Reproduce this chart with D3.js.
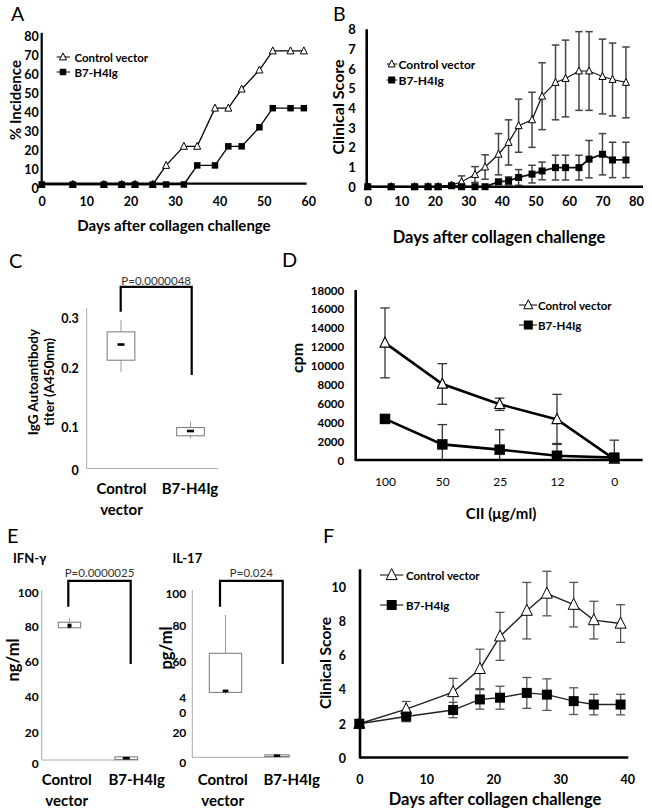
<!DOCTYPE html>
<html><head><meta charset="utf-8">
<script src="https://cdn.jsdelivr.net/npm/d3@7"></script>
<style>
html,body{margin:0;padding:0;background:#fff}
svg{display:block}
</style>
</head><body>
<svg id="fig" width="652" height="810"></svg>
<script>
// ================= DATA =================
// Panel A – % incidence
const daysA = [0,7,14,18,21,25,28,32,35,39,42,45,49,52,56,59];
const incControlA = [2,2,2,2,2,2,12,22,22,42,42,52,62,72,72,72];
const incB7A      = [2,2,2,2,2,2,2,2,12,12,22,22,32,42,42,42];
const ticksAY = [0,10,20,30,40,50,60,70,80];
const ticksAX = [0,10,20,30,40,50,60];

// Panel B – clinical score
const daysB = [0,7,14,18,21,25,28,32,35,39,42,45,49,52,56,59,63,66,70,73,77];
const scoreControlB = [0,0,0,0,0,0.08,0.25,0.62,1.0,1.65,2.25,3.1,3.4,4.6,5.3,5.5,5.88,5.88,5.6,5.45,5.3];
const errControlB   = [0,0,0,0,0,0.05,0.3,0.4,0.62,1.05,1.15,1.35,1.4,1.7,1.9,1.95,2.0,2.0,1.9,1.85,1.8];
const scoreB7B      = [0,0,0,0,0,0.05,0,0,0,0.25,0.3,0.47,0.64,0.8,0.97,0.97,0.97,1.4,1.65,1.36,1.36];
const errB7B        = [0,0,0,0,0,0,0,0,0,0.1,0.2,0.4,0.45,0.45,0.63,0.63,0.63,0.95,1.05,0.9,0.9];
const ticksBY = [0,1,2,3,4,5,6,7,8];
const ticksBX = [0,10,20,30,40,50,60,70,80];

// Panel C – IgG autoantibody titer (box plots)
const groups = ["Control vector","B7-H4Ig"];
const titerMin = [0.194,0.073];
const titerQ1  = [0.216,0.079];
const titerMed = [0.247,0.090];
const titerQ3  = [0.272,0.098];
const titerMax = [0.296,0.109];
const ticksCY = [0,0.1,0.2,0.3];
const pValueC = "P=0.0000048";

// Panel D – proliferation (cpm)
const doseD = ["100","50","25","12","0"];
const cpmControlD    = [12400,8050,5900,4300,100];
const cpmErrControlD = [3700,2150,650,2650,2000];
const cpmB7D         = [4350,1650,1100,450,250];
const cpmErrB7D      = [0,2100,2100,1300,0];
const ticksDY = [0,2000,4000,6000,8000,10000,12000,14000,16000,18000];

// Panel E – cytokines (box plots)
const ifnMin = [78.5,0.0];
const ifnQ1  = [79.4,0.3];
const ifnMed = [80.6,1.3];
const ifnQ3  = [82.6,2.3];
const ifnMax = [84.9,2.6];
const il17Min = [41.9,0.3];
const il17Q1  = [42.8,0.6];
const il17Med = [43.6,1.3];
const il17Q3  = [64.3,2.0];
const il17Max = [86.3,2.4];
const ticksEY = [0,20,40,60,80,100];
const pValueIFN = "P=0.0000025";
const pValueIL17 = "P=0.024";

// Panel F – clinical score
const daysF = [0,7,14,18,21,25,28,32,35,39];
const scoreControlF = [2.0,2.85,3.85,5.2,7.1,8.6,9.6,8.95,8.05,7.85];
const errControlF   = [0,0.45,0.8,1.15,1.4,1.65,1.3,1.3,1.1,1.1];
const scoreB7F      = [2.0,2.42,2.8,3.42,3.52,3.8,3.7,3.32,3.12,3.12];
const errB7F        = [0,0.3,0.45,0.57,0.67,0.9,0.92,0.78,0.6,0.6];
const ticksFY = [0,2,4,6,8,10];
const ticksFX = [0,10,20,30,40];

const legendNames = ["Control vector","B7-H4Ig"];

// ================= HELPERS =================
const FONT = "Lato, 'Open Sans', 'DejaVu Sans', sans-serif";
const svg = d3.select("#fig");

function tri(w){ const h=w; return `M0,${-h*0.58}L${w/2},${h*0.42}L${-w/2},${h*0.42}Z`; }
function sq(w){ return `M${-w/2},${-w/2}h${w}v${w}h${-w}Z`; }

function txt(g, x, y, s, o={}){
  const t = g.append("text")
    .attr("font-family", FONT)
    .attr("font-size", o.size||12)
    .attr("font-weight", o.weight||"bold")
    .attr("fill", o.fill||"#000")
    .attr("text-anchor", o.anchor||"middle")
    .attr("dominant-baseline", o.baseline||"central")
    .text(s);
  if (o.rotate) t.attr("transform", `translate(${x},${y}) rotate(-90)`);
  else t.attr("x", x).attr("y", y);
  return t;
}
function hline(g,x1,x2,y,w,c){ g.append("line").attr("x1",x1).attr("x2",x2).attr("y1",y).attr("y2",y).attr("stroke",c||"#000").attr("stroke-width",w); }
function vline(g,x,y1,y2,w,c){ g.append("line").attr("x1",x).attr("x2",x).attr("y1",y1).attr("y2",y2).attr("stroke",c||"#000").attr("stroke-width",w); }

function yAxis(g, scale, ticks, xPos, pad, fs, weight, fmt){
  const a = g.append("g").attr("transform",`translate(${xPos},0)`)
    .call(d3.axisLeft(scale).tickValues(ticks).tickSize(0).tickPadding(pad).tickFormat(fmt||(d=>String(d))));
  a.select(".domain").remove();
  a.selectAll("text").attr("font-family",FONT).attr("font-size",fs).attr("font-weight",weight).attr("fill","#000").attr("dy","0.35em");
  return a;
}
function xAxis(g, scale, ticks, yCenter, fs, weight){
  const ax = d3.axisBottom(scale).tickSize(0).tickPadding(0).tickFormat(d=>String(d));
  if (ticks) ax.tickValues(ticks);
  const a = g.append("g").attr("transform",`translate(0,${yCenter})`).call(ax);
  a.select(".domain").remove();
  a.selectAll("text").attr("font-family",FONT).attr("font-size",fs).attr("font-weight",weight).attr("fill","#000").attr("y",0).attr("dy","0.35em");
  return a;
}

function series(g, xs, vals, errs, xS, yS, o){
  if (errs){
    const eg = g.append("g").attr("stroke", o.errColor).attr("stroke-width", o.errW);
    xs.forEach((d,i)=>{
      const e = errs[i]; if (!e) return;
      let lo = vals[i]-e;
      if (o.clip0) lo = Math.max(0, lo);
      const x = xS(d), y1 = yS(lo), y2 = yS(vals[i]+e);
      eg.append("line").attr("x1",x).attr("x2",x).attr("y1",y1).attr("y2",y2);
      if (!(o.clip0 && lo===0)) eg.append("line").attr("x1",x-o.cap/2).attr("x2",x+o.cap/2).attr("y1",y1).attr("y2",y1);
      eg.append("line").attr("x1",x-o.cap/2).attr("x2",x+o.cap/2).attr("y1",y2).attr("y2",y2);
    });
  }
  const line = d3.line().x((d,i)=>xS(xs[i])).y(d=>yS(d));
  g.append("path").datum(vals).attr("d", line).attr("fill","none").attr("stroke", o.lineColor).attr("stroke-width", o.lineW);
}
function markers(g, xs, vals, xS, yS, kind, size, sw){
  g.selectAll(null).data(vals).join("path")
    .attr("transform",(d,i)=>`translate(${xS(xs[i])},${yS(d)})`)
    .attr("d", kind==="tri"?tri(size):sq(size))
    .attr("fill", kind==="tri"?"#fff":"#000")
    .attr("stroke","#000").attr("stroke-width", sw);
}
function legend(g, x, y1, y2, lineL, lineR, textX, triSize, sqSize, fs){
  hline(g, lineL, lineR, y1, 1, "#000");
  g.append("path").attr("transform",`translate(${x},${y1})`).attr("d",tri(triSize)).attr("fill","#fff").attr("stroke","#000").attr("stroke-width",1);
  txt(g, textX, y1, legendNames[0], {size:fs, anchor:"start"});
  hline(g, lineL, lineR, y2, 1, "#000");
  g.append("path").attr("transform",`translate(${x},${y2})`).attr("d",sq(sqSize)).attr("fill","#000");
  txt(g, textX, y2, legendNames[1], {size:fs, anchor:"start"});
}
function boxes(g, xPos, yS, mins, q1s, meds, q3s, maxs, boxW, medW, medH){
  xPos.forEach((x,i)=>{
    vline(g, x, yS(maxs[i]), yS(q3s[i]), 1, "#999");
    vline(g, x, yS(q1s[i]), yS(mins[i]), 1, "#999");
    g.append("rect").attr("x", x-boxW[i]/2).attr("width", boxW[i])
      .attr("y", yS(q3s[i])).attr("height", Math.max(1, yS(q1s[i])-yS(q3s[i])))
      .attr("fill","#fff").attr("stroke","#777").attr("stroke-width",1);
    g.append("rect").attr("x", x-medW[i]/2).attr("width", medW[i])
      .attr("y", yS(meds[i])-medH[i]/2).attr("height", medH[i]).attr("fill","#000");
  });
}
function bracket(g, xl, xr, yTop, yL, yR, ptxt, textY, fs){
  g.append("path").attr("d",`M${xl},${yL}V${yTop}H${xr}V${yR}`).attr("fill","none").attr("stroke","#000").attr("stroke-width",2.2);
  txt(g, (xl+xr)/2, textY, ptxt, {size:fs, weight:"normal", fill:"#333", baseline:"alphabetic"});
}
function catLabels(g, xs, y, fs){
  groups.forEach((name,i)=>{
    const parts = name.split(" ");
    parts.forEach((p,j)=> txt(g, xs[i], y + j*21.5, p, {size:fs}));
  });
}

// ================= PANEL A =================
{
  const g = svg.append("g");
  const x = d3.scaleLinear().domain([0,60]).range([41.7,308.3]);
  const y = d3.scaleLinear().domain([0,80]).range([188.3,35.7]);
  txt(g, 11, 20.5, "A", {size:19.5, weight:"normal", anchor:"start", baseline:"alphabetic"});
  series(g, daysA, incControlA, null, x, y, {lineColor:"#000", lineW:1.3});
  series(g, daysA, incB7A, null, x, y, {lineColor:"#000", lineW:1.3});
  vline(g, x(0), y(81.5), y(2.4), 2.2);
  hline(g, x(0), x(59.6), y(2.4), 2.2);
  markers(g, daysA, incControlA, x, y, "tri", 7, 1);
  markers(g, daysA, incB7A, x, y, "sq", 6.5, 0);
  yAxis(g, y, ticksAY, x(0), 3, 12.5, "bold");
  xAxis(g, x, ticksAX, 201.7, 12.5, "bold");
  txt(g, 15, 100, "% Incidence", {size:15, rotate:true});
  txt(g, 174, 225, "Days after collagen challenge", {size:15});
  legend(g, 63, 57, 72, 56.7, 70, 74.5, 7, 6.5, 11.5);
}

// ================= PANEL B =================
{
  const g = svg.append("g");
  const x = d3.scaleLinear().domain([0,80]).range([367.7,636]);
  const y = d3.scaleLinear().domain([0,8]).range([186.7,29.3]);
  txt(g, 333, 20.5, "B", {size:19.5, weight:"normal", anchor:"start", baseline:"alphabetic"});
  const o = {errColor:"#444", errW:1.5, cap:7.5, lineColor:"#111", lineW:1.2};
  series(g, daysB, scoreControlB, errControlB, x, y, o);
  series(g, daysB, scoreB7B, errB7B, x, y, {...o, lineW:1.8});
  vline(g, 366.7, y(8), y(0), 2.6);
  hline(g, 366.7, 643, y(0), 2.6);
  markers(g, daysB, scoreControlB, x, y, "tri", 7, 1);
  markers(g, daysB, scoreB7B, x, y, "sq", 7, 0);
  yAxis(g, y, ticksBY, 366.7, 11, 13, "bold");
  xAxis(g, x, ticksBX, 201.7, 13, "bold");
  txt(g, 337, 107, "Clinical Score", {size:16, rotate:true});
  txt(g, 499, 237, "Days after collagen challenge", {size:16.5});
  legend(g, 391.7, 64, 80, 386.7, 397.3, 398.5, 7, 7, 12);
}

// ================= PANEL C =================
{
  const g = svg.append("g");
  const xs = [121, 190.5];
  const y = d3.scaleLinear().domain(ticksCY).range([470,426.7,368.3,317.7]);
  txt(g, 9, 268, "C", {size:20, weight:"normal", anchor:"start", baseline:"alphabetic"});
  vline(g, 86.7, 308, 468.5, 1, "#aaa");
  hline(g, 86.7, 218, 468.5, 1, "#aaa");
  boxes(g, xs, y, titerMin, titerQ1, titerMed, titerQ3, titerMax, [27.7,27.7], [7,7], [2.6,2.6]);
  yAxis(g, y, ticksCY, 86.7, 8, 12.5, "bold", d=>d===0?"0":d3.format(".1f")(d));
  bracket(g, xs[0]-0.3, xs[1]+1.2, y(0.361), y(0.312), y(0.1885), pValueC, 284.5, 11.5);
  txt(g, 33.3, 382, "IgG Autoantibody", {size:13.5, rotate:true});
  txt(g, 48.5, 382, "titer (A450nm)", {size:13.5, rotate:true});
  catLabels(g, [121.5,190], 487.5, 15);
}

// ================= PANEL D =================
{
  const g = svg.append("g");
  const x = d3.scalePoint().domain(doseD).range([385,614.3]);
  const y = d3.scaleLinear().domain([0,18000]).range([460,290]);
  txt(g, 282, 267, "D", {size:20, weight:"normal", anchor:"start", baseline:"alphabetic"});
  const o = {errColor:"#333", errW:1.3, cap:9.5, lineColor:"#000", lineW:2.6, clip0:true};
  series(g, doseD, cpmControlD, cpmErrControlD, x, y, o);
  series(g, doseD, cpmB7D, cpmErrB7D, x, y, o);
  vline(g, 355.7, 290, 461, 2.6);
  hline(g, 355.7, 642.7, 460, 2.6);
  markers(g, doseD, cpmControlD, x, y, "tri", 10, 1.1);
  markers(g, doseD, cpmB7D, x, y, "sq", 10.5, 0);
  yAxis(g, y, ticksDY, 355.7, 11.5, 11.5, "bold");
  xAxis(g, x, null, 481.5, 12, "normal");
  txt(g, 296, 358, "cpm", {size:16, rotate:true});
  txt(g, 501, 512.5, "CII (\u03bcg/ml)", {size:15});
  legend(g, 528.3, 305, 325, 519, 537, 538, 9, 9, 11.5);
}

// ================= PANEL E =================
{
  const g = svg.append("g");
  txt(g, 7, 543, "E", {size:20, weight:"normal", anchor:"start", baseline:"alphabetic"});
  // IFN-gamma
  const xs1 = [69.5,126.3];
  const y1 = d3.scaleLinear().domain(ticksEY).range([760,732.7,696.7,661.7,626.7,592.3]);
  txt(g, 13, 558, "IFN-\u03b3", {size:13, anchor:"start"});
  vline(g, 41.7, 590, 760, 1, "#aaa");
  hline(g, 41.7, 138.3, 760, 1, "#aaa");
  boxes(g, xs1, y1, ifnMin, ifnQ1, ifnMed, ifnQ3, ifnMax, [22.4,22.7], [4,7], [4,2.6]);
  const a1 = yAxis(g, y1, ticksEY, 41.7, 3, 12, "bold");
  a1.selectAll("text").filter(d=>d===0).attr("dy","0.6em");
  bracket(g, xs1[0]-1.2, xs1[1]+4.4, y1(106.7), y1(91.6), y1(58.7), pValueIFN, 576.5, 11.5);
  txt(g, 13, 660, "ng/ml", {size:16.5, rotate:true});
  catLabels(g, [66.7,136.7], 778.5, 15);

  // IL-17
  const xs2 = [225.5,277];
  const y2 = d3.scaleLinear().domain(ticksEY).range([757.3,732.7,697.5,661,625,593.3]);
  txt(g, 172.5, 558, "IL-17", {size:13, anchor:"start"});
  vline(g, 192.3, 590, 757.3, 1, "#aaa");
  hline(g, 192.3, 290, 757.3, 1, "#aaa");
  boxes(g, xs2, y2, il17Min, il17Q1, il17Med, il17Q3, il17Max, [32.4,24.3], [5.7,6.3], [2.7,2.5]);
  const a2 = yAxis(g, y2, ticksEY, 192.3, 6, 12, "bold");
  a2.selectAll("text").filter(d=>d===0).attr("dy","0.75em");
  // the "40" tick label wraps onto two lines in the original figure
  a2.selectAll("text").filter(d=>d===40).each(function(){
    const t = d3.select(this); const s = t.text(); t.text("");
    t.append("tspan").attr("x", t.attr("x")).attr("dy","0.35em").text(s[0]);
    t.append("tspan").attr("x", t.attr("x")).attr("dy","15").text(s[1]);
  }).attr("dy",null);
  bracket(g, xs2[0]-5.5, xs2[1]+5.7, y2(107.9), y2(91.5), y2(58.4), pValueIL17, 576.5, 11.5);
  txt(g, 166, 648, "pg/ml", {size:16.5, rotate:true});
  catLabels(g, [222.7,291.7], 778.5, 15);
}

// ================= PANEL F =================
{
  const g = svg.append("g");
  const x = d3.scaleLinear().domain([0,40]).range([359.3,627.3]);
  const y = d3.scaleLinear().domain([0,10]).range([758,586.7]);
  txt(g, 323, 543, "F", {size:20, weight:"normal", anchor:"start", baseline:"alphabetic"});
  const o = {errColor:"#555", errW:1.3, cap:9, lineColor:"#222", lineW:1.4};
  series(g, daysF, scoreControlF, errControlF, x, y, o);
  series(g, daysF, scoreB7F, errB7F, x, y, o);
  vline(g, 360, 569.3, 758.5, 2.6);
  hline(g, 360, 628.3, 757.5, 2.6);
  markers(g, daysF, scoreControlF, x, y, "tri", 11, 1);
  markers(g, daysF, scoreB7F, x, y, "sq", 10, 0);
  yAxis(g, y, ticksFY, 360, 14, 12.5, "bold");
  xAxis(g, x, ticksFX, 780, 12.5, "bold");
  txt(g, 325, 663, "Clinical Score", {size:15.5, rotate:true});
  txt(g, 495, 798.5, "Days after collagen challenge", {size:16.5});
  legend(g, 391.7, 575, 605, 380, 403.3, 406, 11, 10, 11.5);
}
</script>
</body></html>
